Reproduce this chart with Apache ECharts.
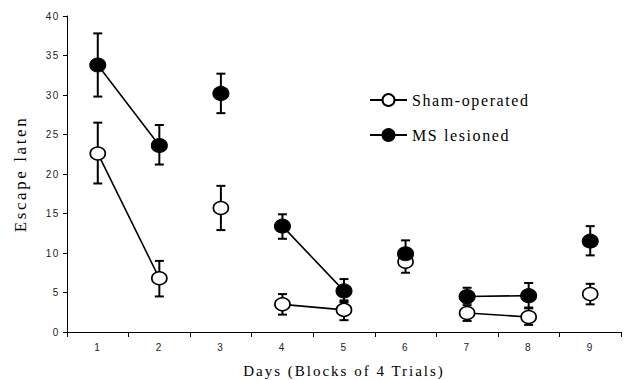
<!DOCTYPE html>
<html>
<head>
<meta charset="utf-8">
<script src="https://cdn.jsdelivr.net/npm/echarts@6/dist/echarts.min.js"></script>
<style>
  html, body { margin: 0; padding: 0; background: #fff; }
  #chart { width: 625px; height: 380px; }
  #chart text[style*="Sans" i] { letter-spacing: 1.5px; }
  #chart text[style*="Serif" i] { letter-spacing: 1.6px; }
  #chart text[style*="17px" i] { letter-spacing: 2.6px; }
  #chart text[style*="15px" i] { letter-spacing: 2px; }
</style>
</head>
<body>
<div id="chart"></div>
<script>
// ---- data ----
const days = ['1', '2', '3', '4', '5', '6', '7', '8', '9'];
const yTicks = { min: 0, max: 40, step: 5 };

const shamMean  = [22.6, 6.8, 15.7, 3.5, 2.8, 8.9, 2.4, 1.9, 4.8];
const shamUpper = [26.5, 9.0, 18.5, 4.8, 4.0, 10.3, 3.4, 3.0, 6.1];
const shamLower = [18.8, 4.5, 12.9, 2.2, 1.5, 7.5, 1.4, 0.9, 3.5];

const msMean  = [33.8, 23.6, 30.2, 13.4, 5.2, 9.9, 4.5, 4.6, 11.5];
const msUpper = [37.8, 26.2, 32.7, 14.9, 6.7, 11.6, 5.6, 6.2, 13.4];
const msLower = [29.8, 21.2, 27.7, 11.8, 3.8, 8.3, 3.7, 3.1, 9.7];

// which days are joined by a line to a neighbour
const joinedDays = [0, 1, 3, 4, 6, 7];

const shamName = 'Sham-operated';
const msName = 'MS lesioned';

// ---- helpers ----
function lineData(mean) {
  return mean.map((v, i) => joinedDays.includes(i) ? v : null);
}
function soloData(mean) {
  return mean.map((v, i) => joinedDays.includes(i) ? null : v);
}
function errData(lower, upper) {
  return lower.map((lo, i) => [i, lo, upper[i]]);
}
function errorBarSeries(lower, upper, z) {
  return {
    type: 'custom',
    z: z,
    silent: true,
    data: errData(lower, upper),
    encode: { x: 0, y: [1, 2] },
    renderItem: function (params, api) {
      const x = api.value(0);
      const lo = api.coord([x, api.value(1)]);
      const hi = api.coord([x, api.value(2)]);
      const w = 4.5;
      const st = { stroke: '#000', lineWidth: 2, fill: null };
      return {
        type: 'group',
        children: [
          { type: 'line', shape: { x1: lo[0], y1: lo[1], x2: hi[0], y2: hi[1] }, style: st },
          { type: 'line', shape: { x1: hi[0] - w, y1: hi[1], x2: hi[0] + w, y2: hi[1] }, style: st },
          { type: 'line', shape: { x1: lo[0] - w, y1: lo[1], x2: lo[0] + w, y2: lo[1] }, style: st }
        ]
      };
    }
  };
}

const shamItem = { color: '#fff', borderColor: '#000', borderWidth: 1.6, opacity: 1 };
const msItem = { color: '#000', borderColor: '#000', borderWidth: 1, opacity: 1 };
const serif = "'Liberation Serif', 'Times New Roman', serif";
const sans = "'Liberation Sans', Arial, sans-serif";

const chart = echarts.init(document.getElementById('chart'), null, { renderer: 'svg' });
chart.setOption({
  animation: false,
  backgroundColor: '#fff',
  grid: { left: 67, right: 4, top: 16, bottom: 48, containLabel: false, outerBoundsMode: 'none' },
  legend: {
    orient: 'vertical',
    left: 364,
    top: 87,
    padding: 5,
    itemWidth: 37,
    itemHeight: 15,
    itemGap: 19,
    data: [shamName, msName],
    textStyle: { fontFamily: serif, fontSize: 16, color: '#000' }
  },
  xAxis: {
    type: 'category',
    data: days,
    boundaryGap: true,
    axisLine: { lineStyle: { color: '#000', width: 1 } },
    axisTick: { show: true, length: 5, alignWithLabel: false, lineStyle: { color: '#000' } },
    axisLabel: { margin: 10, fontFamily: sans, fontSize: 10, color: '#222' },
    splitLine: { show: false },
    name: 'Days (Blocks of 4 Trials)',
    nameLocation: 'middle',
    nameMoveOverlap: false,
    nameGap: 31,
    nameTextStyle: { fontFamily: serif, fontSize: 15, color: '#000' }
  },
  yAxis: {
    type: 'value',
    min: yTicks.min,
    max: yTicks.max,
    interval: yTicks.step,
    axisLine: { show: true, lineStyle: { color: '#000', width: 1 } },
    axisTick: { show: true, length: 4, lineStyle: { color: '#000' } },
    axisLabel: { margin: 7, fontFamily: sans, fontSize: 10, color: '#222' },
    splitLine: { show: false },
    name: 'Escape laten',
    nameLocation: 'middle',
    nameRotate: 90,
    nameMoveOverlap: false,
    nameGap: 38,
    nameTextStyle: { fontFamily: serif, fontSize: 17, color: '#000' }
  },
  series: [
    errorBarSeries(shamLower, shamUpper, 1),
    errorBarSeries(msLower, msUpper, 1),
    {
      name: shamName,
      type: 'line',
      z: 3,
      data: lineData(shamMean),
      connectNulls: false,
      symbol: 'circle',
      symbolSize: [15, 13],
      showSymbol: true,
      lineStyle: { color: '#000', width: 1.6 },
      itemStyle: shamItem
    },
    {
      name: shamName,
      type: 'scatter',
      z: 3,
      data: soloData(shamMean),
      symbol: 'circle',
      symbolSize: [15, 13],
      itemStyle: shamItem
    },
    {
      name: msName,
      type: 'line',
      z: 4,
      data: lineData(msMean),
      connectNulls: false,
      symbol: 'circle',
      symbolSize: [16, 14],
      showSymbol: true,
      lineStyle: { color: '#000', width: 1.6 },
      itemStyle: msItem
    },
    {
      name: msName,
      type: 'scatter',
      z: 4,
      data: soloData(msMean),
      symbol: 'circle',
      symbolSize: [16, 14],
      itemStyle: msItem
    }
  ]
});
</script>
</body>
</html>
